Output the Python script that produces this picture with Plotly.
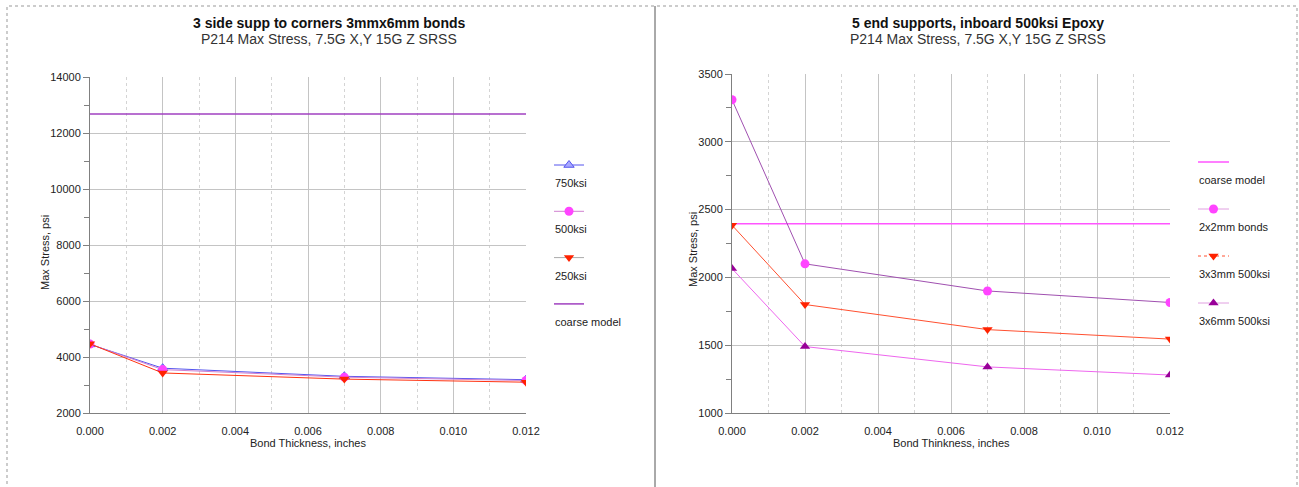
import plotly.graph_objects as go

W, H = 1299, 487

# ---- data ----
thickness = [0.0, 0.002, 0.007, 0.012]

# left panel: 3 side supports to corners, 3mm x 6mm bonds
left_750 = [4450, 3600, 3310, 3190]
left_500 = [4460, 3550, 3280, 3160]
left_250 = [4470, 3430, 3210, 3100]
left_coarse = 12680

# right panel: 5 end supports, inboard 500ksi epoxy
right_coarse = 2395
right_2x2 = [3310, 2100, 1900, 1815]
right_3x3 = [2385, 1800, 1615, 1545]
right_3x6 = [2065, 1490, 1340, 1280]

x_ticks = [0.0, 0.002, 0.004, 0.006, 0.008, 0.010, 0.012]
left_y_ticks = [2000, 4000, 6000, 8000, 10000, 12000, 14000]
right_y_ticks = [1000, 1500, 2000, 2500, 3000, 3500]

FONT = "Liberation Sans, Arial, sans-serif"
GRID = "#c4c4c4"
AXIS = "#808080"


def px_x(v):
    return v / W


def px_y(v):
    return 1 - v / H


fig = go.Figure()

# ---- left panel series ----
fig.add_trace(go.Scatter(x=[thickness[0], thickness[-1]], y=[left_coarse, left_coarse],
                         mode="lines", line=dict(color="#a040c0", width=1.5),
                         xaxis="x", yaxis="y", hoverinfo="skip"))
fig.add_trace(go.Scatter(x=thickness, y=left_750, mode="lines+markers",
                         line=dict(color="#5555ee", width=1),
                         marker=dict(symbol="triangle-up", size=9, color="#a8a8ff",
                                     line=dict(color="#5555ee", width=1)),
                         xaxis="x", yaxis="y"))
fig.add_trace(go.Scatter(x=thickness, y=left_500, mode="lines+markers",
                         line=dict(color="#d080d0", width=1),
                         marker=dict(symbol="circle", size=9, color="#ff44ff"),
                         xaxis="x", yaxis="y"))
fig.add_trace(go.Scatter(x=thickness, y=left_250, mode="lines+markers",
                         line=dict(color="#ff3311", width=1),
                         marker=dict(symbol="triangle-down", size=9, color="#ff2200"),
                         xaxis="x", yaxis="y"))

# ---- right panel series ----
fig.add_trace(go.Scatter(x=[thickness[0], thickness[-1]], y=[right_coarse, right_coarse],
                         mode="lines", line=dict(color="#ff55ff", width=1.5),
                         xaxis="x2", yaxis="y2", hoverinfo="skip"))
fig.add_trace(go.Scatter(x=thickness, y=right_2x2, mode="lines+markers",
                         line=dict(color="#a050b0", width=1),
                         marker=dict(symbol="circle", size=9, color="#ff44ff"),
                         xaxis="x2", yaxis="y2"))
fig.add_trace(go.Scatter(x=thickness, y=right_3x3, mode="lines+markers",
                         line=dict(color="#ff5030", width=1),
                         marker=dict(symbol="triangle-down", size=9, color="#ff2200"),
                         xaxis="x2", yaxis="y2"))
fig.add_trace(go.Scatter(x=thickness, y=right_3x6, mode="lines+markers",
                         line=dict(color="#ee66ee", width=1),
                         marker=dict(symbol="triangle-up", size=9, color="#990099"),
                         xaxis="x2", yaxis="y2"))

# ---- custom legends (glyph above label), each on its own small pixel axis ----
legend_left = [
    ("750ksi", dict(color="#5555ee", width=1), dict(symbol="triangle-up", size=9, color="#a8a8ff",
                                                     line=dict(color="#5555ee", width=1))),
    ("500ksi", dict(color="#d080d0", width=1), dict(symbol="circle", size=9, color="#ff44ff")),
    ("250ksi", dict(color="#aaaaaa", width=1), dict(symbol="triangle-down", size=9, color="#ff2200")),
    ("coarse model", dict(color="#a040c0", width=1.5), None),
]
legend_right = [
    ("coarse model", dict(color="#ff55ff", width=1.5), None),
    ("2x2mm bonds", dict(color="#e0a0e0", width=1), dict(symbol="circle", size=9, color="#ff44ff")),
    ("3x3mm 500ksi", dict(color="#ff5030", width=1, dash="dot"),
     dict(symbol="triangle-down", size=9, color="#ff2200")),
    ("3x6mm 500ksi", dict(color="#e0a0e0", width=1), dict(symbol="triangle-up", size=9, color="#990099")),
]

# pixel boxes of the two legend areas
LEG_TOP, LEG_BOTTOM = 140, 340
LEG_LEFT_BOX = (540, 650)
LEG_RIGHT_BOX = (1185, 1295)

annotations = []


def add_legend(items, xa, ya, x0, x1, y_first, step):
    for i, (label, line, marker) in enumerate(items):
        gy = y_first + i * step
        fig.add_trace(go.Scatter(x=[x0, x1], y=[gy, gy], mode="lines", line=line,
                                 xaxis=xa, yaxis=ya, hoverinfo="skip"))
        if marker is not None:
            fig.add_trace(go.Scatter(x=[(x0 + x1) / 2], y=[gy], mode="markers", marker=marker,
                                     xaxis=xa, yaxis=ya, hoverinfo="skip"))
        annotations.append(dict(x=px_x(x0 - 1), y=px_y(gy + 18), xref="paper", yref="paper",
                                text=label, showarrow=False, xanchor="left", yanchor="middle",
                                font=dict(family=FONT, size=11, color="#222222")))


add_legend(legend_left, "x3", "y3", 554, 584, 165, 46.3)
add_legend(legend_right, "x4", "y4", 1198, 1229, 162, 47)

# ---- titles and axis titles ----
for cx, title in [(329, "3 side supp to corners 3mmx6mm bonds"),
                  (978, "5 end supports, inboard 500ksi Epoxy")]:
    annotations.append(dict(x=px_x(cx), y=px_y(23), xref="paper", yref="paper",
                            text="<b>" + title + "</b>", showarrow=False,
                            xanchor="center", yanchor="middle",
                            font=dict(family=FONT, size=14, color="#111111")))
    annotations.append(dict(x=px_x(cx), y=px_y(39), xref="paper", yref="paper",
                            text="P214 Max Stress, 7.5G X,Y 15G Z SRSS", showarrow=False,
                            xanchor="center", yanchor="middle",
                            font=dict(family=FONT, size=14, color="#333333")))

for cx, text in [(308, "Bond Thickness, inches"), (951, "Bond Thinkness, inches")]:
    annotations.append(dict(x=px_x(cx), y=px_y(443), xref="paper", yref="paper",
                            text=text, showarrow=False, xanchor="center", yanchor="middle",
                            font=dict(family=FONT, size=11, color="#222222")))

for cx, cy in ((45, 253), (693, 250)):
    annotations.append(dict(x=px_x(cx), y=px_y(cy), xref="paper", yref="paper",
                            text="Max Stress, psi", showarrow=False, textangle=-90,
                            xanchor="center", yanchor="middle",
                            font=dict(family=FONT, size=11, color="#222222")))

# ---- frame shapes ----
shapes = [
    dict(type="line", xref="paper", yref="paper", x0=px_x(655), x1=px_x(655), y0=0, y1=px_y(6),
         line=dict(color="#555555", width=1)),
    dict(type="rect", xref="paper", yref="paper", x0=px_x(7), x1=px_x(1297),
         y0=px_y(H + 4), y1=px_y(6), line=dict(color="#999999", width=1, dash="dot")),
]


def xaxis_cfg(domain, anchor):
    return dict(domain=domain, anchor=anchor, range=[0, 0.012], tickvals=x_ticks,
                tickformat=".3f", showgrid=True, gridcolor=GRID, gridwidth=1,
                minor=dict(dtick=0.001, showgrid=True, gridcolor="#d4d4d4", griddash="dot"),
                showline=True, linecolor=AXIS, ticks="", zeroline=False, automargin=False,
                ticklabelstandoff=8,
                tickfont=dict(family=FONT, size=11, color="#222222"), fixedrange=True)


def yaxis_cfg(domain, anchor, rng, ticks, minor_step):
    return dict(domain=domain, anchor=anchor, range=rng, tickvals=ticks,
                ticktext=[str(t) for t in ticks], automargin=False,
                showgrid=True, gridcolor=GRID, gridwidth=1, zeroline=False,
                showline=True, linecolor=AXIS, ticks="outside", ticklen=6, tickcolor=AXIS,
                minor=dict(dtick=minor_step, ticks="outside", ticklen=5, tickcolor=AXIS,
                           showgrid=False),
                tickfont=dict(family=FONT, size=11, color="#222222"), fixedrange=True)


def legend_axes(box):
    x0, x1 = box
    xa = dict(domain=[x0 / W, x1 / W], range=[x0, x1], visible=False, fixedrange=True,
              automargin=False)
    ya = dict(domain=[px_y(LEG_BOTTOM), px_y(LEG_TOP)], range=[LEG_BOTTOM, LEG_TOP],
              visible=False, fixedrange=True, automargin=False)
    return xa, ya


x3, y3 = legend_axes(LEG_LEFT_BOX)
x4, y4 = legend_axes(LEG_RIGHT_BOX)
x3["anchor"], y3["anchor"] = "y3", "x3"
x4["anchor"], y4["anchor"] = "y4", "x4"

fig.update_layout(
    width=W, height=H, margin=dict(l=0, r=0, t=0, b=0, autoexpand=False),
    paper_bgcolor="white", plot_bgcolor="rgba(0,0,0,0)", showlegend=False,
    xaxis=xaxis_cfg([90 / W, 526 / W], "y"),
    yaxis=yaxis_cfg([px_y(413), px_y(77)], "x", [2000, 14000], left_y_ticks, 1000),
    xaxis2=xaxis_cfg([732 / W, 1170 / W], "y2"),
    yaxis2=yaxis_cfg([px_y(413), px_y(74)], "x2", [1000, 3500], right_y_ticks, 250),
    xaxis3=x3, yaxis3=y3, xaxis4=x4, yaxis4=y4,
    annotations=annotations, shapes=shapes,
)

page_js = "document.body.style.margin='0';document.body.style.overflow='hidden';"
fig.write_html("out.html", post_script=page_js)
